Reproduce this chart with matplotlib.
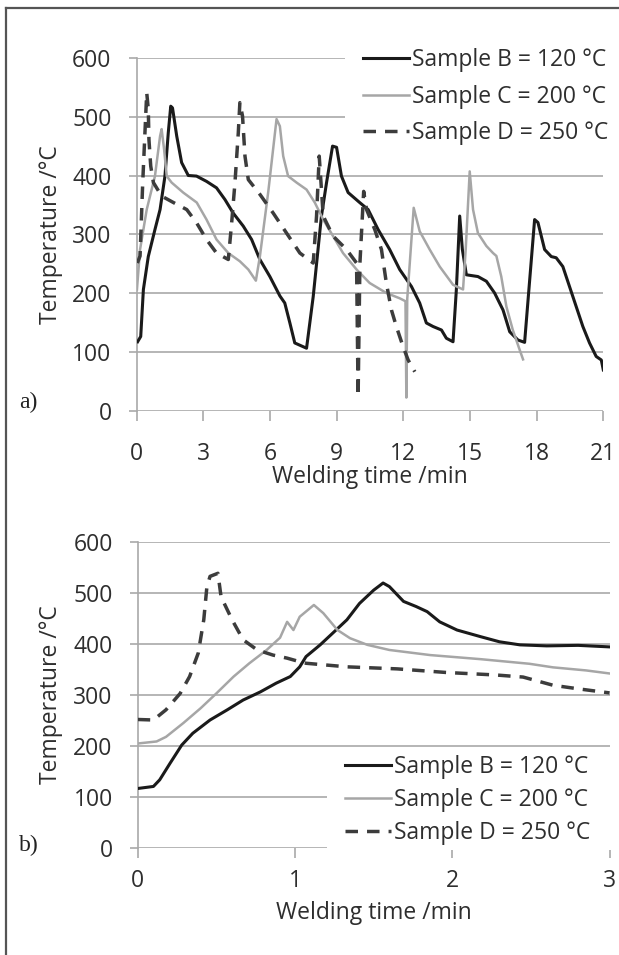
import matplotlib
matplotlib.use("Agg")
import matplotlib.pyplot as plt
from matplotlib.lines import Line2D
from matplotlib.patches import Rectangle

# ---------------- data ----------------
labels = ["Sample B = 120 °C", "Sample C = 200 °C", "Sample D = 250 °C"]

# panel a) full welding run
a_B_t = [0.05, 0.19, 0.31, 0.53, 0.83, 1.06, 1.28, 1.43, 1.54, 1.62, 1.81, 2.03, 2.33, 2.7, 3.15, 3.6, 3.98,
         4.35, 4.8, 5.18, 5.55, 6.0, 6.15, 6.45, 6.67, 6.9, 7.12, 7.65, 7.95, 8.32, 8.55, 8.82, 9.0, 9.22, 9.52,
         10.04, 10.42, 10.87, 11.39, 11.84, 12.37, 12.74, 13.04, 13.34, 13.72, 13.94, 14.24, 14.39, 14.54,
         14.66, 14.84, 15.36, 15.74, 16.11, 16.49, 16.79, 17.16, 17.46, 17.69, 17.91, 18.06, 18.36, 18.66,
         18.88, 19.18, 19.48, 19.78, 20.08, 20.38, 20.68, 20.91, 21.0]
a_B_T = [117, 126, 206, 262, 308, 342, 399, 473, 518, 515, 467, 422, 400, 399, 390, 379, 359,
         336, 314, 291, 257, 228, 217, 195, 183, 149, 115, 106, 194, 331, 388, 450, 448, 399, 371,
         354, 342, 308, 274, 240, 211, 183, 149, 143, 137, 123, 117, 206, 331,
         274, 231, 228, 220, 200, 171, 134, 120, 116, 223, 325, 320, 274, 262,
         260, 245, 211, 177, 143, 115, 92, 86, 69]

a_C_t = [0.02, 0.16, 0.46, 0.83, 1.06, 1.13, 1.24, 1.36, 1.58, 2.1, 2.71, 3.15, 3.6, 4.13, 4.65, 5.03, 5.37,
         5.55, 5.93, 6.3, 6.45, 6.6, 6.82, 7.2, 7.65, 8.02, 8.4, 8.84, 9.29, 9.9, 10.49, 11.24, 11.84, 12.10,
         12.14, 12.18, 12.47, 12.74, 13.19, 13.64, 14.24, 14.69, 14.81, 14.99, 15.14, 15.36, 15.74, 16.04,
         16.19, 16.41, 16.64, 16.93, 17.24, 17.39]
a_C_T = [206, 274, 342, 399, 467, 479, 445, 399, 388, 371, 354, 325, 291, 268, 254, 240, 221,
         262, 373, 496, 484, 433, 399, 388, 376, 354, 325, 297, 268, 240, 217, 200, 191, 186,
         22, 190, 345, 305, 274, 245, 214, 206, 274, 407, 342, 302, 280, 268,
         263, 228, 177, 137, 103, 87]

a_D_t = [0.04, 0.16, 0.28, 0.46, 0.53, 0.56, 0.64, 0.76, 1.13, 1.66, 2.26, 2.71, 3.15, 3.6, 4.13, 4.28, 4.43,
         4.58, 4.65, 4.77, 4.88, 5.03, 5.55, 6.15, 6.75, 7.35, 7.95, 8.1, 8.22, 8.4, 8.84, 9.45, 9.9, 9.97,
         10.05, 10.22, 10.35, 10.72, 11.02, 11.24, 11.47, 11.69, 11.99, 12.22, 12.52]
a_D_T = [251, 263, 388, 541, 513, 461, 416, 388, 365, 354, 342, 319, 291, 268, 257, 319, 388,
         473, 524, 501, 433, 393, 368, 336, 302, 268, 251, 331, 433, 331, 297, 274, 251, 24,
         250, 373, 342, 308, 274, 217, 171, 143, 109, 86, 66]

# panel b) first three minutes
b_B_t = [0, 0.1, 0.14, 0.205, 0.28, 0.35, 0.46, 0.57, 0.67, 0.78, 0.88, 0.97, 1.03, 1.07, 1.16, 1.24, 1.33,
         1.41, 1.50, 1.56, 1.60, 1.69, 1.77, 1.84, 1.92, 2.03, 2.18, 2.30, 2.43, 2.6, 2.8, 3.0]
b_B_T = [117, 121, 134, 166, 202, 225, 251, 271, 290, 306, 323, 336, 355, 375, 398, 421, 447,
         479, 505, 519, 512, 483, 473, 463, 443, 427, 414, 404, 398, 396, 397, 394]

b_C_t = [0, 0.12, 0.18, 0.29, 0.40, 0.50, 0.61, 0.71, 0.82, 0.905, 0.95, 0.99, 1.03, 1.12, 1.18, 1.27, 1.35,
         1.46, 1.60, 1.86, 2.18, 2.49, 2.64, 2.85, 3.0]
b_C_T = [205, 209, 218, 245, 274, 303, 336, 362, 388, 412, 443, 427, 453, 476, 460, 427, 411,
         398, 388, 378, 370, 361, 354, 348, 342]

b_D_t = [0, 0.1, 0.18, 0.27, 0.33, 0.385, 0.42, 0.44, 0.46, 0.51, 0.53, 0.60, 0.67, 0.76, 0.86, 0.95, 1.03,
         1.07, 1.33, 1.65, 1.96, 2.28, 2.45, 2.64, 2.8, 3.0]
b_D_T = [252, 251, 271, 303, 336, 382, 447, 512, 532, 538, 492, 447, 408, 388, 378, 372, 365,
         362, 355, 351, 344, 339, 335, 319, 312, 304]

a_xticks = [0, 3, 6, 9, 12, 15, 18, 21]
b_xticks = [0, 1, 2, 3]
yticks = [0, 100, 200, 300, 400, 500, 600]

# ---------------- style ----------------
plt.rcParams['font.family'] = ['Open Sans', 'DejaVu Sans']
FS = 16.5
TXT = '#2e2e2e'
GRID = '#a9a9a9'
styles = [dict(color='#1a1a1a', lw=2.2, ls='-'),
          dict(color='#a6a6a6', lw=1.8, ls='-'),
          dict(color='#3c3c3c', lw=2.5, ls=(0, (3.6, 2.6)))]

W, H = 619, 955
fig = plt.figure(figsize=(W / 100, H / 100), dpi=100)


def px_rect(l, r, t, b):
    return [l / W, 1 - b / H, (r - l) / W, (b - t) / H]


def style_axes(ax, xlim, xticks, xpad):
    ax.set_xlim(*xlim)
    ax.set_ylim(0, 600)
    ax.set_xticks(xticks)
    ax.set_yticks(yticks)
    ax.set_axisbelow(True)
    ax.grid(axis='y', color=GRID, lw=1.2)
    for s in ['top', 'right', 'bottom']:
        ax.spines[s].set_visible(False)
    ax.spines['left'].set_color(GRID)
    ax.spines['left'].set_linewidth(1.2)
    ax.tick_params(axis='y', direction='out', length=6, width=1.2, color=GRID,
                   labelsize=FS, labelcolor=TXT, pad=12)
    ax.tick_params(axis='x', direction='out', length=7, width=1.2, color=GRID,
                   labelsize=FS, labelcolor=TXT, pad=xpad)
    ax.set_facecolor('none')


# ---------- panel a ----------
ax1 = fig.add_axes(px_rect(136.5, 603.3, 58, 410.5))
style_axes(ax1, (0, 21), a_xticks, 16)
series_a = [(a_B_t, a_B_T), (a_C_t, a_C_T), (a_D_t, a_D_T)]
for (t, T), st, lab in zip(series_a, styles, labels):
    ax1.plot(t, T, label=lab, zorder=3, solid_joinstyle='round', **st)
ax1.add_patch(Rectangle((0.4465, 0.74), 0.6, 0.3, transform=ax1.transAxes,
                        facecolor='white', edgecolor='none', zorder=1, clip_on=False))
ax1.set_xlabel('Welding time /min', fontsize=FS, color=TXT)
ax1.set_ylabel('Temperature /°C', fontsize=FS, color=TXT)
ax1.xaxis.set_label_coords(0.5, -0.188)
ax1.xaxis.label.set_va('center')
ax1.yaxis.set_label_coords(-0.183, 0.5)
ax1.yaxis.label.set_va('center')
fig.legend(handles=ax1.get_lines(), labels=labels, loc='upper left',
           bbox_to_anchor=(363 / W, 1 - 48 / H), frameon=False, fontsize=FS,
           labelcolor=TXT, handlelength=2.0, handletextpad=0.12,
           labelspacing=0.55, borderpad=0, borderaxespad=0)

# ---------- panel b ----------
ax2 = fig.add_axes(px_rect(137.7, 609.6, 541.6, 848.3))
style_axes(ax2, (0, 3), b_xticks, 8)
series_b = [(b_B_t, b_B_T), (b_C_t, b_C_T), (b_D_t, b_D_T)]
for (t, T), st, lab in zip(series_b, styles, labels):
    ax2.plot(t, T, label=lab, zorder=3, solid_joinstyle='round', **st)
ax2.add_patch(Rectangle((0.401, -0.004), 0.7, 0.29, transform=ax2.transAxes,
                        facecolor='white', edgecolor='none', zorder=1, clip_on=False))
ax2.set_xlabel('Welding time /min', fontsize=FS, color=TXT)
ax2.set_ylabel('Temperature /°C', fontsize=FS, color=TXT)
ax2.xaxis.set_label_coords(0.5, -0.211)
ax2.xaxis.label.set_va('center')
ax2.yaxis.set_label_coords(-0.184, 0.5)
ax2.yaxis.label.set_va('center')
fig.legend(handles=ax2.get_lines(), labels=labels, loc='upper left',
           bbox_to_anchor=(345 / W, 1 - 755 / H), frameon=False, fontsize=FS,
           labelcolor=TXT, handlelength=2.0, handletextpad=0.12,
           labelspacing=0.4, borderpad=0, borderaxespad=0)

# panel letters
fig.text(28.6 / W, 1 - 402 / H, 'a)', family=['Liberation Serif', 'DejaVu Serif'],
         fontsize=17, ha='center', va='center', color='#222222')
fig.text(28.6 / W, 1 - 845 / H, 'b)', family=['Liberation Serif', 'DejaVu Serif'],
         fontsize=17, ha='center', va='center', color='#222222')

# outer frame (left and top edges visible)
fig.add_artist(Line2D([6 / W, 6 / W], [0, 1 - 8.5 / H], transform=fig.transFigure,
                      color='#555555', lw=1.6))
fig.add_artist(Line2D([6 / W, 1], [1 - 8.5 / H, 1 - 8.5 / H], transform=fig.transFigure,
                      color='#555555', lw=1.6))

fig.savefig('out.png', dpi=100, facecolor='white')
